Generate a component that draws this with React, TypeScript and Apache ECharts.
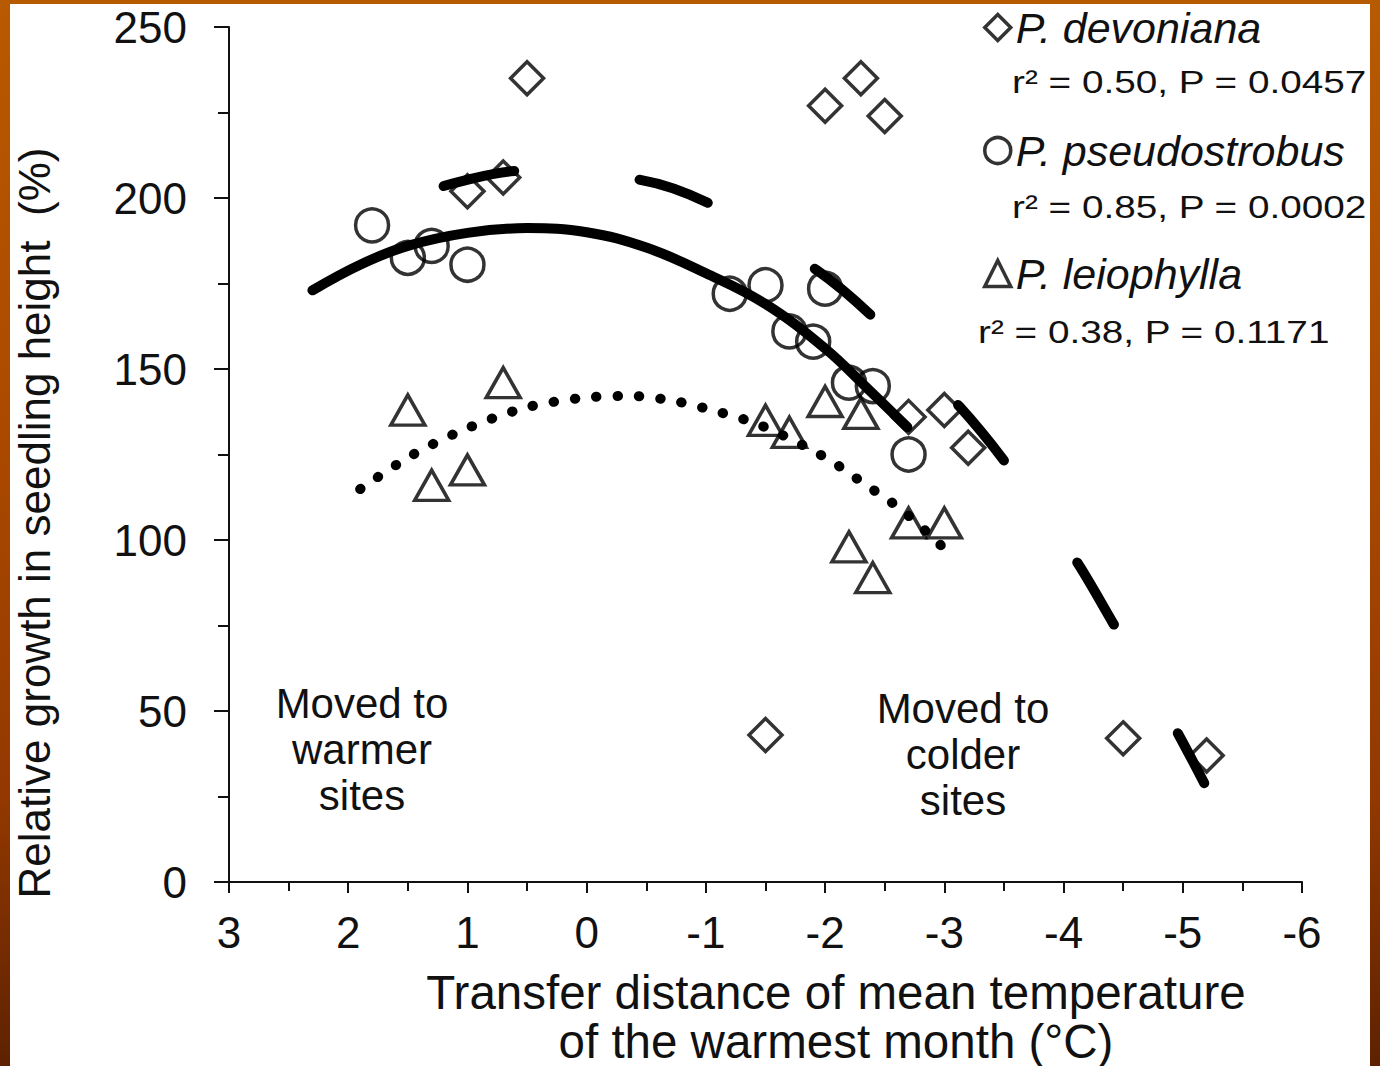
import React, { useEffect, useRef } from "react";
import * as echarts from "echarts";

// ---- Data ----
// P. devoniana (diamonds)
const devonianaX = [0.5, 1.0, 0.7, -2.0, -2.3, -2.5, -2.7, -3.0, -3.2, -1.5, -4.5, -5.2];
const devonianaY = [235, 202, 206, 227, 235, 224, 136, 138, 127, 43, 42, 37];
// P. pseudostrobus (circles)
const pseudoX = [1.8, 1.5, 1.3, 1.0, -1.2, -1.5, -2.0, -1.7, -1.9, -2.2, -2.4, -2.7];
const pseudoY = [192, 182.5, 186, 180.5, 172, 174.5, 173.5, 161, 158, 146, 145, 125];
// P. leiophylla (triangles)
const leioX = [1.5, 1.3, 1.0, 0.7, -1.5, -1.7, -2.0, -2.3, -2.2, -2.4, -2.7, -3.0];
const leioY = [138, 116, 120.5, 146, 135, 131.5, 140.5, 137, 98, 89, 105, 105];

// fitted curves
const fitDevX = [1.2, 0.58, -0.45, -1.05, -1.93, -2.4, -3.13, -3.51, -4.1, -4.41, -4.92, -5.18];
const fitDevY = [203.5, 207.9, 205.3, 198.0, 178.9, 165.2, 138.9, 122.8, 94.2, 76.0, 45.9, 28.9];
const fitPseX = [2.3, 1.9, 1.5, 1.0, 0.5, 0.0, -0.5, -1.0, -1.5, -2.0, -2.35, -2.69];
const fitPseY = [173, 180.5, 186, 189.8, 191.2, 190, 185.5, 178, 169, 156, 144.5, 133];
const fitLeiX = [1.9, 1.46, 1.0, 0.49, -0.04, -0.38, -0.74, -1.08, -1.41, -1.73, -2.05, -2.33, -2.62, -2.87, -3.01];
const fitLeiY = [114.9, 124.9, 132.7, 138.9, 141.8, 142.1, 140.6, 137.7, 134.2, 129.2, 123.1, 116.4, 109.4, 101.8, 97.1];

const speciesNames = ["P. devoniana", "P. pseudostrobus", "P. leiophylla"];
const statTexts = ["r² = 0.50, P = 0.0457", "r² = 0.85, P = 0.0002", "r² = 0.38, P = 0.1171"];
const yTitle = "Relative growth in seedling height  (%)";
const xTitle1 = "Transfer distance of mean temperature";
const xTitle2 = "of the warmest month (°C)";
const warmText = "Moved to\nwarmer\nsites";
const coldText = "Moved to\ncolder\nsites";

const pairs = (xs: number[], ys: number[]) => xs.map((x, i) => [x, ys[i]]);

const FONT = "'Liberation Sans', Arial, Helvetica, sans-serif";

export default function App() {
  const ref = useRef<HTMLDivElement>(null);

  useEffect(() => {
    if (!ref.current) return;
    const chart = echarts.init(ref.current, null, { renderer: "svg" });

    const markerStyle = {
      color: "rgba(255,255,255,0)",
      borderColor: "#000",
      borderWidth: 3.5,
    };

    const statText = (text: string, x: number, y: number) => ({
      type: "text",
      x,
      y,
      scaleX: 1.21,
      style: { text, fontSize: 32, fontFamily: FONT, fill: "#111", align: "left", verticalAlign: "middle" },
    });

    const option: any = {
      animation: false,
      backgroundColor: "transparent",
      textStyle: { fontFamily: FONT, color: "#000" },
      grid: {
        left: 229,
        right: 78,
        top: 27,
        bottom: 184,
        containLabel: false,
        outerBoundsMode: "none",
      },
      legend: {
        data: speciesNames,
        orient: "vertical",
        left: 983,
        top: 6,
        padding: 0,
        itemGap: 80,
        itemWidth: 26,
        itemHeight: 26,
        selectedMode: false,
        itemStyle: { borderWidth: 3.5, borderColor: "#000", color: "rgba(255,255,255,0)" },
        textStyle: {
          fontSize: 43,
          fontStyle: "italic",
          fontFamily: FONT,
          color: "#111",
          lineHeight: 42,
          padding: [0, 0, 0, 0],
        },
      },
      xAxis: {
        type: "value",
        inverse: true,
        min: -6,
        max: 3,
        interval: 1,
        splitLine: { show: false },
        axisLine: { show: true, onZero: false, lineStyle: { color: "#111", width: 2 } },
        axisTick: { show: true, length: 11, lineStyle: { color: "#111", width: 2 } },
        minorTick: { show: true, splitNumber: 2, length: 9, lineStyle: { color: "#111", width: 2 } },
        minorSplitLine: { show: false },
        axisLabel: { fontSize: 44, color: "#111", margin: 28, fontFamily: FONT },
      },
      yAxis: {
        type: "value",
        min: 0,
        max: 250,
        interval: 50,
        splitLine: { show: false },
        axisLine: { show: true, onZero: false, lineStyle: { color: "#111", width: 2 } },
        axisTick: { show: true, length: 15, lineStyle: { color: "#111", width: 2 } },
        minorTick: { show: true, splitNumber: 2, length: 11, lineStyle: { color: "#111", width: 2 } },
        minorSplitLine: { show: false },
        axisLabel: { fontSize: 44, color: "#111", margin: 42, fontFamily: FONT },
      },
      graphic: [
        {
          type: "text",
          x: 34,
          y: 523,
          rotation: Math.PI / 2,
          style: { text: yTitle, fontSize: 44, fontFamily: FONT, fill: "#111", align: "center", verticalAlign: "middle" },
        },
        {
          type: "text",
          x: 836,
          y: 992,
          style: { text: xTitle1, fontSize: 47.5, lineHeight: 46, fontFamily: FONT, fill: "#111", align: "center", verticalAlign: "middle" },
        },
        {
          type: "text",
          x: 836,
          y: 1041,
          style: { text: xTitle2, fontSize: 47.5, lineHeight: 42, fontFamily: FONT, fill: "#111", align: "center", verticalAlign: "middle" },
        },
        {
          type: "text",
          x: 362,
          y: 749,
          style: { text: warmText, fontSize: 42, lineHeight: 46, fontFamily: FONT, fill: "#111", align: "center", verticalAlign: "middle" },
        },
        {
          type: "text",
          x: 963,
          y: 754,
          style: { text: coldText, fontSize: 42, lineHeight: 46, fontFamily: FONT, fill: "#111", align: "center", verticalAlign: "middle" },
        },
        statText(statTexts[0], 1012, 82),
        statText(statTexts[1], 1012, 207),
        statText(statTexts[2], 978, 332),
      ],
      series: [
        {
          name: speciesNames[0],
          type: "scatter",
          symbol: "diamond",
          symbolSize: 33,
          itemStyle: markerStyle,
          data: pairs(devonianaX, devonianaY),
        },
        {
          name: speciesNames[1],
          type: "scatter",
          symbol: "circle",
          symbolSize: 33,
          itemStyle: markerStyle,
          data: pairs(pseudoX, pseudoY),
        },
        {
          name: speciesNames[2],
          type: "scatter",
          symbol: "triangle",
          symbolSize: [34, 30],
          itemStyle: markerStyle,
          data: pairs(leioX, leioY),
        },
        {
          name: "fit devoniana",
          type: "line",
          showSymbol: false,
          smooth: 0.3,
          silent: true,
          z: 3,
          lineStyle: { color: "#000", width: 10, type: [72, 126], cap: "round" },
          data: pairs(fitDevX, fitDevY),
        },
        {
          name: "fit pseudostrobus",
          type: "line",
          showSymbol: false,
          smooth: 0.4,
          silent: true,
          z: 3,
          lineStyle: { color: "#000", width: 10, type: "solid", cap: "round" },
          data: pairs(fitPseX, fitPseY),
        },
        {
          name: "fit leiophylla",
          type: "line",
          showSymbol: false,
          smooth: 0.3,
          silent: true,
          z: 3,
          lineStyle: { color: "#000", width: 10, type: [0.5, 20.9], cap: "round" },
          data: pairs(fitLeiX, fitLeiY),
        },
      ],
    };

    chart.setOption(option);
    return () => chart.dispose();
  }, []);

  return (
    <div
      style={{
        position: "absolute",
        left: 0,
        top: 0,
        width: 1380,
        height: 1066,
        overflow: "hidden",
        background: "linear-gradient(180deg, #b85a00 0%, #a84800 45%, #923800 75%, #5e2200 100%)",
      }}
    >
      <div style={{ position: "absolute", left: 10, top: 4, width: 1360, height: 1062, background: "#fff" }} />
      <div ref={ref} style={{ position: "absolute", left: 0, top: 0, width: 1380, height: 1066 }} />
    </div>
  );
}
